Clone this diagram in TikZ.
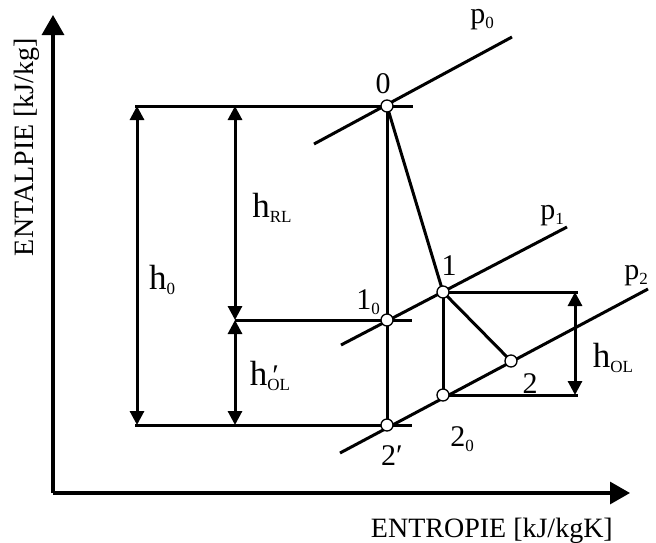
\documentclass[tikz,border=0pt]{standalone}
\usepackage{fontspec}
\setmainfont{Liberation Serif}
\usetikzlibrary{arrows.meta, positioning, calc}

% lowered small subscript, as printed in the diagram
\newcommand{\lowsub}[1]{\raisebox{-5pt}{\fontsize{17}{17}\selectfont #1}}

\begin{document}
\begin{tikzpicture}[
  x=1pt, y=-1pt,
  >={Triangle[length=14pt, width=14pt]},
  every node/.style={font=\fontsize{30}{32}\selectfont},
  line/.style={line width=3pt},
  axis/.style={line width=3.2pt, -{Triangle[length=20pt, width=22pt]}},
  dim/.style={line width=3pt, <->},
  state/.style={circle, draw, fill=white, line width=1.3pt, inner sep=0pt, minimum size=12pt},
  lbl/.style={inner sep=1pt},
  hlbl/.style={inner sep=1pt, font=\fontsize{35}{36}\selectfont},
  axlbl/.style={inner sep=0pt, font=\fontsize{28}{30}\selectfont},
]
\useasboundingbox (0,0) rectangle (656,542);

% Axes
\coordinate (origin) at (53,493);
\coordinate (hend) at (53,15);
\coordinate (send) at (630,493);
\draw[axis] (origin) -- (hend);
\draw[axis] (origin) -- (send);
\node[axlbl, rotate=90, anchor=base east] (hlabel) at (34,38) {ENTALPIE [kJ/kg]};
\node[axlbl, anchor=base east] (slabel) at (613,537) {ENTROPIE [kJ/kgK]};

% State points (placed first, drawn on top later)
\coordinate (c0)  at (387,106);
\coordinate (c1)  at (443,292);
\coordinate (c10) at (387,320);
\coordinate (c2p) at (387,425);
\coordinate (c2)  at (511,361);
\coordinate (c20) at (443,395);

% Isobars
\coordinate (p0a) at (314,144);
\coordinate (p0b) at (512,37);
\coordinate (p1a) at (341,345);
\coordinate (p1b) at (567,227);
\coordinate (p2a) at (340,453);
\coordinate (p2b) at (648,289);
\draw[line] (p0a) -- (p0b);
\draw[line] (p1a) -- (p1b);
\draw[line] (p2a) -- (p2b);

% Enthalpy levels
\coordinate (top left) at (135,106);
\coordinate (top right) at (413,106);
\coordinate (mid left) at (235,320);
\coordinate (mid right) at (412,320);
\coordinate (bot left) at (135,425);
\coordinate (bot right) at (412,425);
\draw[line] (top left) -- (top right);
\draw[line] (mid left) -- (mid right);
\draw[line] (bot left) -- (bot right);

% Process lines
\draw[line] (c0) -- (c2p);
\draw[line] (c0) -- (c1);
\draw[line] (c1) -- (c2);
\draw[line] (c1) -- (c20);

% Losses box on the right
\coordinate (ol top) at (578,292);
\coordinate (ol bot) at (578,395);
\draw[line] (c1) -- (ol top);
\draw[line] (c20) -- (ol bot);

% Dimension arrows
\draw[dim] (137,106) -- (137,425);
\draw[dim] (235,106) -- (235,320);
\draw[dim] (235,320) -- (235,425);
\draw[dim] (575,292) -- (575,395);

\node[hlbl] (h0)   at (162,280) {h\lowsub{0}};
\node[hlbl] (hRL)  at (272,208) {h\lowsub{RL}};
\node[hlbl] (hOLp) at (270,376) {h\rlap{\fontsize{30}{30}\selectfont\,′}\lowsub{OL}};
\node[hlbl] (hOL)  at (613,358) {h\lowsub{OL}};

% Points
\node[state] (s0)  at (c0)  {};
\node[state] (s1)  at (c1)  {};
\node[state] (s10) at (c10) {};
\node[state] (s2p) at (c2p) {};
\node[state] (s2)  at (c2)  {};
\node[state] (s20) at (c20) {};

% Point labels
\node[lbl] at (383,84)  {0};
\node[lbl] at (449,266) {1};
\node[lbl] at (368,302) {1\lowsub{0}};
\node[lbl] at (392,456) {2′};
\node[lbl] at (462,439) {2\lowsub{0}};
\node[lbl] at (530,384) {2};
\node[lbl] at (482,20)  {p\lowsub{0}};
\node[lbl] at (552,216) {p\lowsub{1}};
\node[lbl] at (636,276) {p\lowsub{2}};

\end{tikzpicture}
\end{document}
